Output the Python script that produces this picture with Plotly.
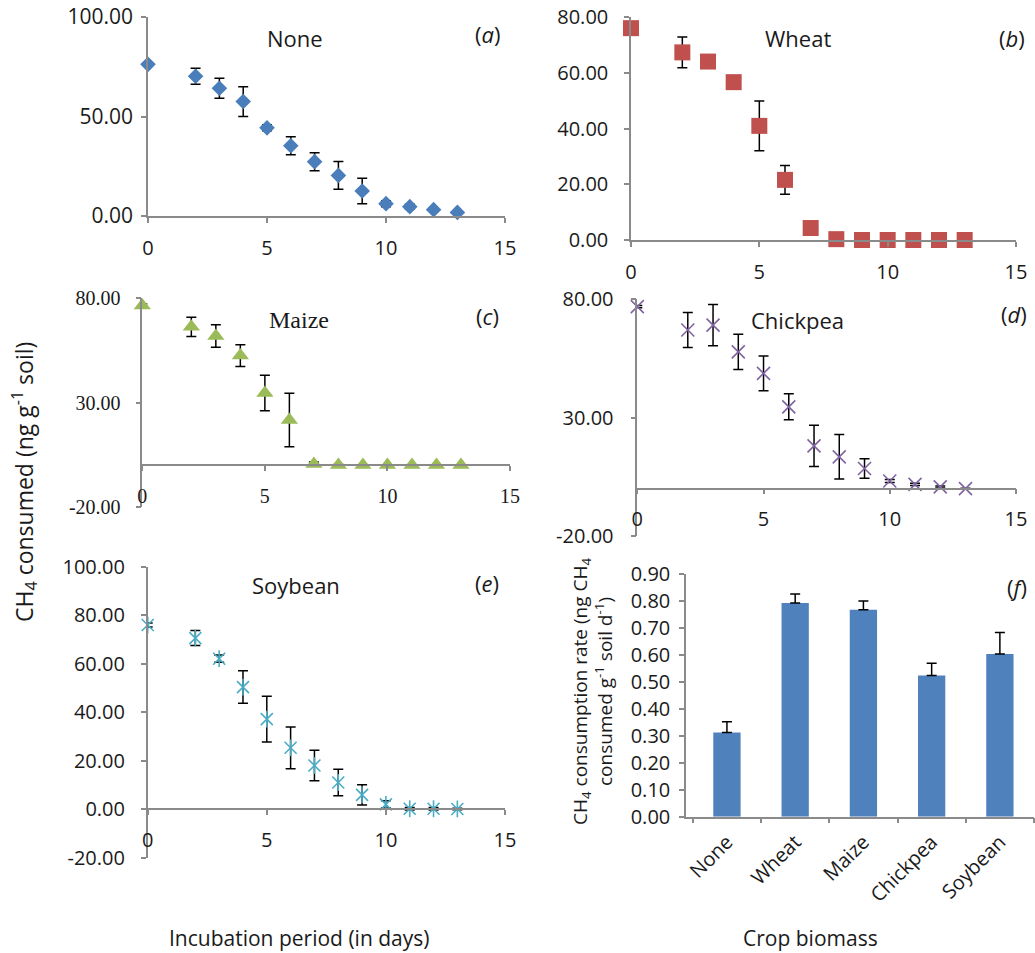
import plotly.graph_objects as go

# ---------------- data ----------------
days = [0, 2, 3, 4, 5, 6, 7, 8, 9, 10, 11, 12, 13]

none_mean = [76.2, 70.2, 64.2, 57.5, 44.3, 35.3, 27.3, 20.4, 12.6, 6.2, 4.7, 3.2, 1.8]
none_err = [0.8, 4.0, 5.0, 7.5, 1.5, 4.5, 4.5, 7.0, 6.4, 1.5, 1.2, 0.8, 0.5]

wheat_mean = [76.1, 67.4, 64.1, 56.7, 41.0, 21.6, 4.3, 0.3, 0.0, 0.0, 0.0, 0.0, 0.0]
wheat_err = [0.8, 5.5, 1.0, 1.0, 8.9, 5.2, 0.5, 0.2, 0.0, 0.0, 0.0, 0.0, 0.0]

maize_mean = [76.5, 66.3, 61.9, 52.5, 34.6, 21.6, 0.5, 0.0, 0.0, 0.0, 0.0, 0.0, 0.0]
maize_err = [0.8, 4.6, 5.4, 5.2, 8.5, 12.8, 1.0, 0.3, 0.0, 0.0, 0.0, 0.0, 0.0]

chickpea_mean = [76.8, 66.9, 69.0, 57.7, 48.6, 34.5, 18.0, 13.4, 8.5, 3.2, 1.8, 0.7, 0.0]
chickpea_err = [0.5, 7.4, 8.7, 7.4, 7.3, 5.5, 8.7, 9.4, 4.1, 0.6, 0.5, 0.4, 0.2]

soybean_mean = [76.0, 70.6, 62.1, 50.4, 37.2, 25.4, 18.1, 11.1, 6.0, 2.1, 0.3, 0.3, 0.2]
soybean_err = [0.8, 3.1, 1.5, 6.7, 9.4, 8.6, 6.3, 5.5, 4.2, 1.5, 0.5, 0.5, 0.3]

crops = ["None", "Wheat", "Maize", "Chickpea", "Soybean"]
rate = [0.312, 0.792, 0.767, 0.524, 0.603]
rate_err = [0.040, 0.034, 0.033, 0.045, 0.080]

x_ticks = [0, 5, 10, 15]
y_ticks_a = [0, 50, 100]
y_ticks_b = [0, 20, 40, 60, 80]
y_ticks_cd = [-20, 30, 80]
y_ticks_e = [-20, 0, 20, 40, 60, 80, 100]
y_ticks_f = [0.0, 0.1, 0.2, 0.3, 0.4, 0.5, 0.6, 0.7, 0.8, 0.9]

# ---------------- layout helpers ----------------
W, H = 1035, 953
SANS = "Open Sans"
SERIF = "Liberation Serif"
AX = "#8a8a8a"
TXT = "#1a1a1a"


def px_x(px):
    return px / W


def px_y(py):
    return 1 - py / H


def dom_x(left, right):
    return [px_x(left), px_x(right)]


def dom_y(top, bottom):
    return [px_y(bottom), px_y(top)]


def zero_pos(ydom, yrange):
    return ydom[0] + (0 - yrange[0]) / (yrange[1] - yrange[0]) * (ydom[1] - ydom[0])


def err(arr):
    return dict(type="data", array=arr, color="black", thickness=1.5, width=5)


fig = go.Figure()

# (a) None
fig.add_trace(go.Scatter(x=days, y=none_mean, mode="markers", error_y=err(none_err),
                         marker=dict(symbol="diamond", size=12, color="#4A7EBB"),
                         cliponaxis=False, xaxis="x", yaxis="y"))
# (b) Wheat
fig.add_trace(go.Scatter(x=days, y=wheat_mean, mode="markers", error_y=err(wheat_err),
                         marker=dict(symbol="square", size=16, color="#C0504D"),
                         cliponaxis=False, xaxis="x2", yaxis="y2"))
# (c) Maize
fig.add_trace(go.Scatter(x=days, y=maize_mean, mode="markers", error_y=err(maize_err),
                         marker=dict(symbol="triangle-up", size=15, color="#9BBB59"),
                         cliponaxis=False, xaxis="x3", yaxis="y3"))
# (d) Chickpea
fig.add_trace(go.Scatter(x=days, y=chickpea_mean, mode="markers", error_y=err(chickpea_err),
                         marker=dict(symbol="x-thin", size=13, color="#8064A2",
                                     line=dict(width=1.6, color="#8064A2")),
                         cliponaxis=False, xaxis="x4", yaxis="y4"))
# (e) Soybean (star = x + vertical stroke)
fig.add_trace(go.Scatter(x=days, y=soybean_mean, mode="markers", error_y=err(soybean_err),
                         marker=dict(symbol="x-thin", size=12, color="#4BACC6",
                                     line=dict(width=1.6, color="#4BACC6")),
                         cliponaxis=False, xaxis="x5", yaxis="y5"))
fig.add_trace(go.Scatter(x=days, y=soybean_mean, mode="markers",
                         marker=dict(symbol="line-ns", size=12, color="#4BACC6",
                                     line=dict(width=1.6, color="#4BACC6")),
                         cliponaxis=False, xaxis="x5", yaxis="y5"))
# (f) rates
fig.add_trace(go.Bar(x=crops, y=rate, width=0.4, marker=dict(color="#4F81BD", line=dict(width=0)),
                     error_y=dict(type="data", symmetric=False, array=rate_err,
                                  arrayminus=[0 for _ in rate], color="black", thickness=1.5, width=5),
                     xaxis="x6", yaxis="y6"))


def xax(domain, font, anchor, position=None, **kw):
    d = dict(domain=domain, range=[0, 15], tickmode="array", tickvals=x_ticks,
             ticktext=[str(v) for v in x_ticks],
             showline=True, linecolor=AX, linewidth=1.5, ticks="outside", ticklen=5,
             tickcolor=AX, tickwidth=1.5, showgrid=False, zeroline=False,
             ticklabelstandoff=8, ticklabeloverflow="allow",
             tickfont=dict(family=font, size=20, color=TXT))
    if position is None:
        d["anchor"] = anchor
    else:
        d["anchor"] = "free"
        d["position"] = position
    d.update(kw)
    return d


def yax(domain, yrange, ticks, font, anchor, size=20, standoff=8):
    return dict(domain=domain, range=yrange, tickmode="array", tickvals=ticks,
                ticktext=["%.2f" % v for v in ticks],
                showline=True, linecolor=AX, linewidth=1.5, ticks="outside", ticklen=5,
                tickcolor=AX, tickwidth=1.5, showgrid=False, zeroline=False, anchor=anchor,
                ticklabelstandoff=standoff, ticklabeloverflow="allow",
                tickfont=dict(family=font, size=size, color=TXT))


ya_dom = dom_y(17, 216)
yb_dom = dom_y(17.3, 240)
yc_dom = dom_y(298.3, 506.7)
yd_dom = dom_y(299, 536)
ye_dom = dom_y(566.7, 858)
yf_dom = dom_y(574, 816.7)

rng_cd = [-20, 80]
rng_e = [-20, 100]

layout = dict(
    width=W, height=H, margin=dict(l=0, r=0, t=0, b=0, autoexpand=False),
    paper_bgcolor="white", plot_bgcolor="white", showlegend=False,
    xaxis=xax(dom_x(148, 505), SANS, "y"),
    yaxis=yax(ya_dom, [0, 100], y_ticks_a, SANS, "x", size=21, standoff=4),
    xaxis2=xax(dom_x(631, 1016), SANS, "y2"),
    yaxis2=yax(yb_dom, [0, 80], y_ticks_b, SANS, "x2", size=20, standoff=12),
    xaxis3=xax(dom_x(142.3, 510), SERIF, None, position=zero_pos(yc_dom, rng_cd)),
    yaxis3=yax(yc_dom, rng_cd, y_ticks_cd, SERIF, "x3", size=20, standoff=11),
    xaxis4=xax(dom_x(637.3, 1016), SANS, None, position=zero_pos(yd_dom, rng_cd)),
    yaxis4=yax(yd_dom, rng_cd, y_ticks_cd, SANS, "x4", size=20, standoff=13),
    xaxis5=xax(dom_x(147.7, 505), SANS, None, position=zero_pos(ye_dom, rng_e)),
    yaxis5=yax(ye_dom, rng_e, y_ticks_e, SANS, "x5", size=20, standoff=12),
    xaxis6=dict(domain=dom_x(686, 1034), type="category", range=[-0.6, 4.5], anchor="y6",
                showline=True, linecolor=AX, linewidth=1.5, ticks="outside", ticklen=5,
                tickcolor=AX, tickwidth=1.5, tickson="boundaries", tickangle=-45,
                ticklabelstandoff=4,
                showgrid=False, zeroline=False, tickfont=dict(family=SANS, size=20, color=TXT)),
    yaxis6=yax(yf_dom, [0, 0.9], y_ticks_f, SANS, "x6", size=20, standoff=5),
)
fig.update_layout(**layout)


def label(text, px, py, size=22, family=SANS, angle=0):
    fig.add_annotation(text=text, x=px_x(px), y=px_y(py), xref="paper", yref="paper",
                       showarrow=False, xanchor="center", yanchor="middle", textangle=angle,
                       font=dict(family=family, size=size, color=TXT))


# panel titles and letters
label("None", 295, 38)
label("(<i>a</i>)", 487, 34)
label("Wheat", 798, 38)
label("(<i>b</i>)", 1012, 38)
label("Maize", 299, 320, size=24, family=SERIF)
label("(<i>c</i>)", 487, 316)
label("Chickpea", 797, 320)
label("(<i>d</i>)", 1014, 314)
label("Soybean", 296, 585)
label("(<i>e</i>)", 487, 583)
label("(<i>f</i>)", 1017, 587)

# axis titles
label("CH<sub>4</sub> consumed (ng g<sup>-1</sup> soil)", 24, 482, size=23, angle=-90)
label("CH<sub>4</sub> consumption rate (ng CH<sub>4</sub><br>consumed g<sup>-1</sup> soil d<sup>-1</sup>)",
      592, 692, size=19, angle=-90)
label("Incubation period (in days)", 299, 938, size=21)
label("Crop biomass", 810, 938, size=21)

# remove the default 8px page margin so the 1035x953 figure fills the window exactly
fig.write_html("out.html", config={"displayModeBar": False},
               post_script="document.body.style.margin='0';")
